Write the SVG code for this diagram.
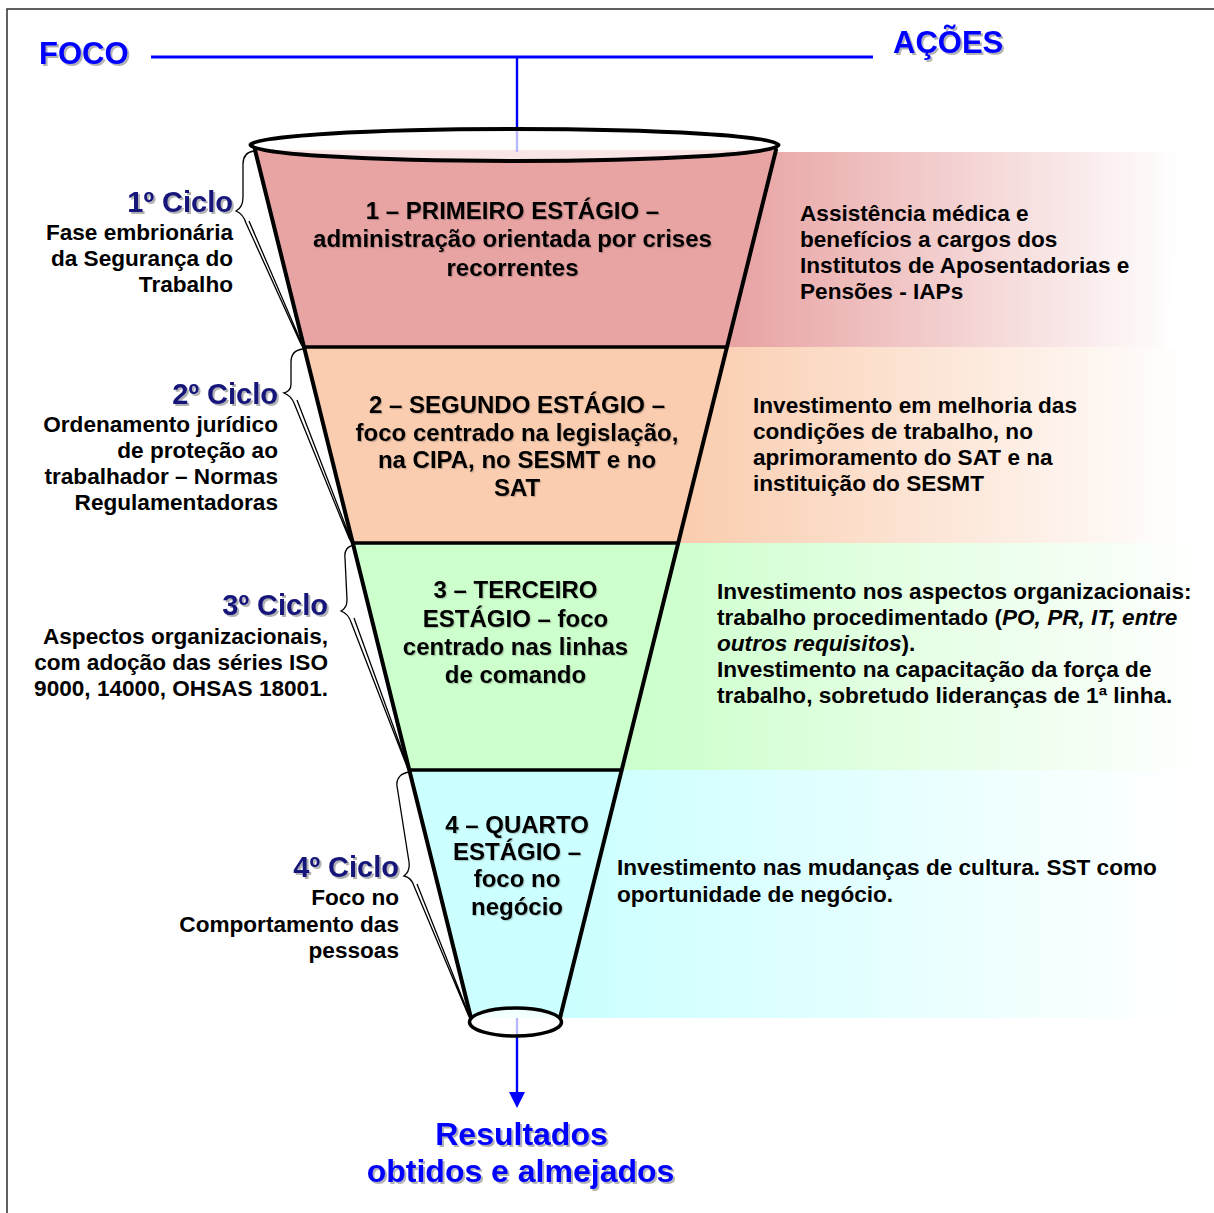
<svg xmlns="http://www.w3.org/2000/svg" width="1214" height="1213" viewBox="0 0 1214 1213">
<defs>
<style>
text{font-family:"Liberation Sans",Arial,sans-serif;font-weight:bold}
.head{font-size:31px;fill:#0000FF}
.res{font-size:32px;fill:#0000FF;text-anchor:middle}
.cyc{font-size:29px;fill:#14147A;text-anchor:end}
.lab{font-size:22.6px;fill:#000;text-anchor:end}
.stg{font-size:24px;fill:#000;text-anchor:middle}
.act{font-size:22.6px;fill:#000}
.it{font-style:italic}
.edge{fill:none;stroke:#000;stroke-width:4;stroke-linecap:round}
.div{stroke:#000;stroke-width:3.5}
.brace{fill:none;stroke:#000;stroke-width:1.3}
.blue{stroke:#0000FF;fill:none}
</style>
<filter id="sh" x="-5%" y="-30%" width="115%" height="160%">
<feDropShadow dx="2" dy="2" stdDeviation="0.6" flood-color="#000" flood-opacity="0.3"/>
</filter>
<filter id="sh2" x="-5%" y="-30%" width="115%" height="160%">
<feDropShadow dx="1.2" dy="1.2" stdDeviation="0.5" flood-color="#000" flood-opacity="0.2"/>
</filter>
<linearGradient id="g1" gradientUnits="userSpaceOnUse" x1="735" y1="0" x2="1180" y2="0">
<stop offset="0" stop-color="#E8A3A3"/><stop offset="1" stop-color="#FFFFFF"/>
</linearGradient>
<linearGradient id="g2" gradientUnits="userSpaceOnUse" x1="690" y1="0" x2="1190" y2="0">
<stop offset="0" stop-color="#FACDB0"/><stop offset="1" stop-color="#FFFFFF"/>
</linearGradient>
<linearGradient id="g3" gradientUnits="userSpaceOnUse" x1="640" y1="0" x2="1210" y2="0">
<stop offset="0" stop-color="#CCFFCC"/><stop offset="1" stop-color="#FFFFFF"/>
</linearGradient>
<linearGradient id="g4" gradientUnits="userSpaceOnUse" x1="580" y1="0" x2="1185" y2="0">
<stop offset="0" stop-color="#CCFFFF"/><stop offset="1" stop-color="#FFFFFF"/>
</linearGradient>
<marker id="arr" markerUnits="userSpaceOnUse" markerWidth="16" markerHeight="16" refX="8" refY="8" orient="auto">
<path d="M0,0 L16,8 L0,16 z" fill="#0000FF"/>
</marker>
</defs>

<rect x="0" y="0" width="1214" height="1213" fill="#FFFFFF"/>
<rect id="frame" x="7" y="9" width="1230" height="1230" fill="none" stroke="#3A3A3A" stroke-width="1.6"/>

<g id="header">
<text class="head" x="39" y="64" filter="url(#sh)">FOCO</text>
<text class="head" x="893" y="53" filter="url(#sh)">AÇÕES</text>
</g>

<g id="bands">
<polygon points="255,152 1185,152 1165,347 304,347" fill="url(#g1)"/>
<polygon points="304,347 1190,347 1190,543 353,543" fill="url(#g2)"/>
<polygon points="353,543 1210,543 1210,770 409,770" fill="url(#g3)"/>
<polygon points="409,770 1185,770 1185,1018 471,1018" fill="url(#g4)"/>
</g>

<g id="stage1">
<polygon points="255,150 776,150 727,347 304,347" fill="#E8A3A3"/>
<text class="stg" filter="url(#sh2)"><tspan x="512.5" y="219">1 – PRIMEIRO ESTÁGIO –</tspan><tspan x="512.5" y="247">administração orientada por crises</tspan><tspan x="512.5" y="276">recorrentes</tspan></text>
</g>
<g id="stage2">
<polygon points="304,347 727,347 678,543 353,543" fill="#FACDB0"/>
<text class="stg" filter="url(#sh2)"><tspan x="517" y="413">2 – SEGUNDO ESTÁGIO –</tspan><tspan x="517" y="441">foco centrado na legislação,</tspan><tspan x="517" y="468">na CIPA, no SESMT e no</tspan><tspan x="517" y="496">SAT</tspan></text>
</g>
<g id="stage3">
<polygon points="353,543 678,543 622,770 409,770" fill="#CCFFCC"/>
<text class="stg" filter="url(#sh2)"><tspan x="515.5" y="598">3 – TERCEIRO</tspan><tspan x="515.5" y="627">ESTÁGIO – foco</tspan><tspan x="515.5" y="655">centrado nas linhas</tspan><tspan x="515.5" y="683">de comando</tspan></text>
</g>
<g id="stage4">
<polygon points="409,770 622,770 560,1018 471,1018" fill="#CCFFFF"/>
<text class="stg" filter="url(#sh2)"><tspan x="517" y="833">4 – QUARTO</tspan><tspan x="517" y="860">ESTÁGIO –</tspan><tspan x="517" y="887">foco no</tspan><tspan x="517" y="915">negócio</tspan></text>
</g>

<g id="connectors">
<line class="blue" x1="151" y1="57" x2="873" y2="57" stroke-width="3.2"/>
<line class="blue" x1="517" y1="57" x2="517" y2="152" stroke-width="2.4"/>
<line class="blue" x1="517" y1="1018" x2="517" y2="1100" stroke-width="2.4" marker-end="url(#arr)"/>
</g>

<g id="funnel">
<line class="div" x1="304" y1="347" x2="727" y2="347"/>
<line class="div" x1="353" y1="543" x2="678" y2="543"/>
<line class="div" x1="409" y1="770" x2="622" y2="770"/>
<line class="edge" x1="255" y1="150" x2="471" y2="1018"/>
<line class="edge" x1="776" y1="150" x2="560" y2="1018"/>
<ellipse cx="514.5" cy="145" rx="264" ry="16" fill="#FFFFFF" fill-opacity="0.72" stroke="#000" stroke-width="4"/>
<ellipse cx="515.5" cy="1022" rx="46" ry="14" fill="#FFFFFF" fill-opacity="0.72" stroke="#000" stroke-width="3.5"/>
</g>

<g id="cycle1">
<path class="brace" d="M254,151 C246,152 243,157 243,164 L243,197 C243,205 240,209 236,211 C241,213 244,217 246,223 L300,342 C301,345 302,346 304,347 M249,221 L302,344"/>
<text class="cyc" x="233" y="212" filter="url(#sh)">1º Ciclo</text>
<text class="lab"><tspan x="233" y="240">Fase embrionária</tspan><tspan x="233" y="266">da Segurança do</tspan><tspan x="233" y="292">Trabalho</tspan></text>
</g>
<g id="cycle2">
<path class="brace" d="M303,349 C294,350 291,355 291,362 L291,384 C291,389 288,392 284,393 C289,395 292,398 294,403 L349,538 C350,541 351,542 353,543 M297,400 L351,540"/>
<text class="cyc" x="278" y="404" filter="url(#sh)">2º Ciclo</text>
<text class="lab"><tspan x="278" y="432">Ordenamento jurídico</tspan><tspan x="278" y="458">de proteção ao</tspan><tspan x="278" y="484">trabalhador – Normas</tspan><tspan x="278" y="510">Regulamentadoras</tspan></text>
</g>
<g id="cycle3">
<path class="brace" d="M355,545 C347,546 344,551 345,558 L347,600 C347,606 345,609 341,611 C346,613 349,616 351,622 L406,764 C407,767 408,769 409,770 M354,618 L408,767"/>
<text class="cyc" x="328" y="615" filter="url(#sh)">3º Ciclo</text>
<text class="lab"><tspan x="328" y="644">Aspectos organizacionais,</tspan><tspan x="328" y="670">com adoção das séries ISO</tspan><tspan x="328" y="696">9000, 14000, OHSAS 18001.</tspan></text>
</g>
<g id="cycle4">
<path class="brace" d="M410,772 C401,773 396,778 397,786 L409,862 C410,869 408,873 404,876 C409,877 412,880 414,886 L467,1012 C468,1015 469,1017 471,1019 M417,884 L469,1015"/>
<text class="cyc" x="399" y="877" filter="url(#sh)">4º Ciclo</text>
<text class="lab"><tspan x="399" y="905">Foco no</tspan><tspan x="399" y="932">Comportamento das</tspan><tspan x="399" y="958">pessoas</tspan></text>
</g>

<g id="action1">
<text class="act"><tspan x="800" y="221">Assistência médica e</tspan><tspan x="800" y="247">benefícios a cargos dos</tspan><tspan x="800" y="273">Institutos de Aposentadorias e</tspan><tspan x="800" y="299">Pensões - IAPs</tspan></text>
</g>
<g id="action2">
<text class="act"><tspan x="753" y="413">Investimento em melhoria das</tspan><tspan x="753" y="439">condições de trabalho, no</tspan><tspan x="753" y="465">aprimoramento do SAT e na</tspan><tspan x="753" y="491">instituição do SESMT</tspan></text>
</g>
<g id="action3">
<text class="act"><tspan x="717" y="599">Investimento nos aspectos organizacionais:</tspan><tspan x="717" y="625">trabalho procedimentado (<tspan class="it">PO, PR, IT, entre</tspan></tspan><tspan x="717" y="651"><tspan class="it">outros requisitos</tspan>).</tspan><tspan x="717" y="677">Investimento na capacitação da força de</tspan><tspan x="717" y="703">trabalho, sobretudo lideranças de 1ª linha.</tspan></text>
</g>
<g id="action4">
<text class="act"><tspan x="617" y="875">Investimento nas mudanças de cultura. SST como</tspan><tspan x="617" y="902">oportunidade de negócio.</tspan></text>
</g>

<g id="result">
<text class="res" filter="url(#sh)"><tspan x="521.5" y="1145">Resultados</tspan><tspan x="520.5" y="1182">obtidos e almejados</tspan></text>
</g>
</svg>
